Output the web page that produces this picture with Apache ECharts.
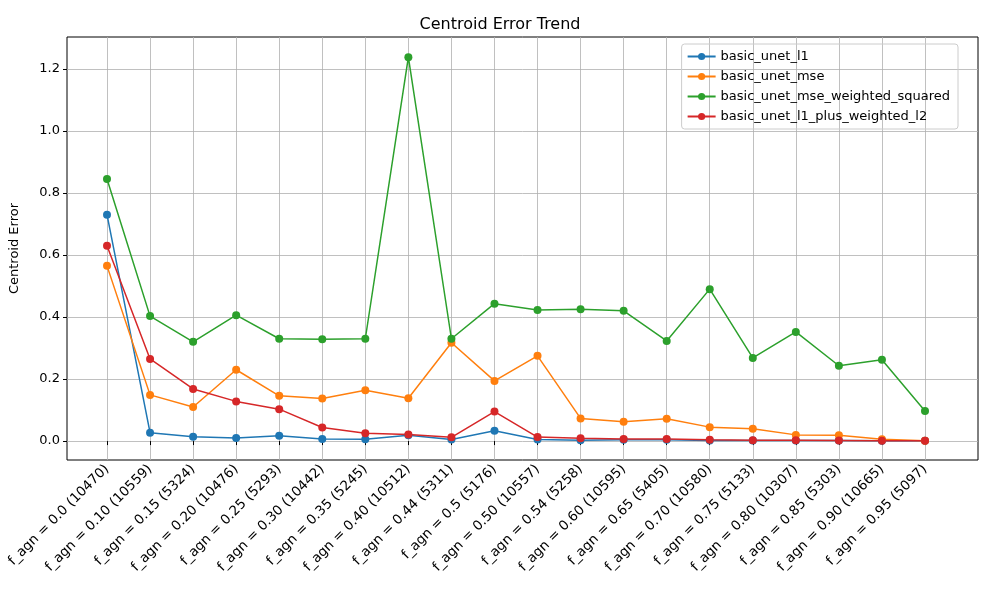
<!DOCTYPE html>
<html>
<head>
<meta charset="utf-8">
<script src="https://cdn.jsdelivr.net/npm/echarts@6/dist/echarts.min.js"></script>
<style>html,body{margin:0;padding:0;background:#fff}#chart{width:1000px;height:600px}</style>
</head>
<body>
<div id="chart"></div>
<script>
var categories = ['f_agn = 0.0 (10470)', 'f_agn = 0.10 (10559)', 'f_agn = 0.15 (5324)', 'f_agn = 0.20 (10476)',
	'f_agn = 0.25 (5293)', 'f_agn = 0.30 (10442)', 'f_agn = 0.35 (5245)', 'f_agn = 0.40 (10512)',
	'f_agn = 0.44 (5311)', 'f_agn = 0.5 (5176)', 'f_agn = 0.50 (10557)', 'f_agn = 0.54 (5258)',
	'f_agn = 0.60 (10595)', 'f_agn = 0.65 (5405)', 'f_agn = 0.70 (10580)', 'f_agn = 0.75 (5133)',
	'f_agn = 0.80 (10307)', 'f_agn = 0.85 (5303)', 'f_agn = 0.90 (10665)', 'f_agn = 0.95 (5097)'];
var unetL1 = [0.73, 0.027, 0.014, 0.010, 0.017, 0.007, 0.006, 0.019, 0.005, 0.033,
	0.005, 0.003, 0.004, 0.004, 0.002, 0.002, 0.002, 0.002, 0.001, 0.001];
var unetMse = [0.565, 0.149, 0.110, 0.230, 0.146, 0.137, 0.164, 0.138, 0.317, 0.194,
	0.275, 0.073, 0.062, 0.072, 0.045, 0.040, 0.020, 0.019, 0.006, 0.001];
var unetMseWeighted = [0.845, 0.403, 0.320, 0.406, 0.330, 0.328, 0.330, 1.238, 0.330, 0.443,
	0.423, 0.425, 0.420, 0.323, 0.490, 0.268, 0.352, 0.243, 0.262, 0.097];
var unetL1PlusL2 = [0.630, 0.265, 0.168, 0.128, 0.103, 0.044, 0.025, 0.021, 0.012, 0.095,
	0.013, 0.009, 0.007, 0.007, 0.004, 0.003, 0.003, 0.002, 0.001, 0.001];
var yTicks = [0, 0.2, 0.4, 0.6, 0.8, 1.0, 1.2];

var yMin = -0.061, yMax = 1.303;
var myChart = echarts.init(document.getElementById('chart'));

function mkSeries(name, data, color) {
	return {
		name: name, type: 'line', data: data, symbol: 'circle', symbolSize: 8,
		xAxisIndex: 1, yAxisIndex: 1,
		lineStyle: {width: 1.5, color: color}, itemStyle: {color: color}
	};
}

var option = {
	animation: false,
	textStyle: {fontFamily: 'DejaVu Sans'},
	title: {
		text: 'Centroid Error Trend', left: 'center', top: 12,
		textStyle: {fontSize: 16, fontWeight: 'normal', color: '#000', fontFamily: 'DejaVu Sans'}
	},
	legend: {
		orient: 'vertical', right: 42, top: 44, itemGap: 7, itemWidth: 28, itemHeight: 9,
		padding: [6, 8, 6, 5], borderColor: '#ccc', borderWidth: 1, borderRadius: 3,
		textStyle: {fontSize: 13, color: '#000'},
		data: ['basic_unet_l1', 'basic_unet_mse', 'basic_unet_mse_weighted_squared', 'basic_unet_l1_plus_weighted_l2']
	},
	grid: [
		{left: 67, right: 22, top: 37, bottom: 140, show: true, borderColor: '#000', borderWidth: 1, backgroundColor: 'transparent'},
		{left: 107, right: 75, top: 37, bottom: 140}
	],
	xAxis: [{
		gridIndex: 0, type: 'value', min: 0, max: 1, show: false
	}, {
		gridIndex: 1, type: 'category', data: categories, boundaryGap: false,
		axisLine: {show: false},
		axisTick: {show: true, alignWithLabel: true, length: 4, lineStyle: {color: '#000'}},
		axisLabel: {rotate: 45, color: '#000', fontSize: 13.5, interval: 0, margin: 7},
		splitLine: {show: true, lineStyle: {color: '#b0b0b0', width: 0.8}}
	}],
	yAxis: [{
		gridIndex: 0, type: 'value', min: yMin, max: yMax,
		name: 'Centroid Error', nameLocation: 'middle', nameGap: 46,
		nameTextStyle: {fontSize: 13, color: '#000'},
		axisLine: {show: false},
		axisTick: {show: true, length: 4, lineStyle: {color: '#000'}, customValues: yTicks},
		axisLabel: {color: '#000', fontSize: 13, customValues: yTicks, margin: 7,
			formatter: function(v) { return v.toFixed(1); }},
		splitLine: {show: true, lineStyle: {color: '#b0b0b0', width: 0.8}}
	}, {
		gridIndex: 1, type: 'value', min: yMin, max: yMax, show: false
	}],
	series: [
		mkSeries('basic_unet_l1', unetL1, '#1f77b4'),
		mkSeries('basic_unet_mse', unetMse, '#ff7f0e'),
		mkSeries('basic_unet_mse_weighted_squared', unetMseWeighted, '#2ca02c'),
		mkSeries('basic_unet_l1_plus_weighted_l2', unetL1PlusL2, '#d62728')
	]
};
myChart.setOption(option);
</script>
</body>
</html>
